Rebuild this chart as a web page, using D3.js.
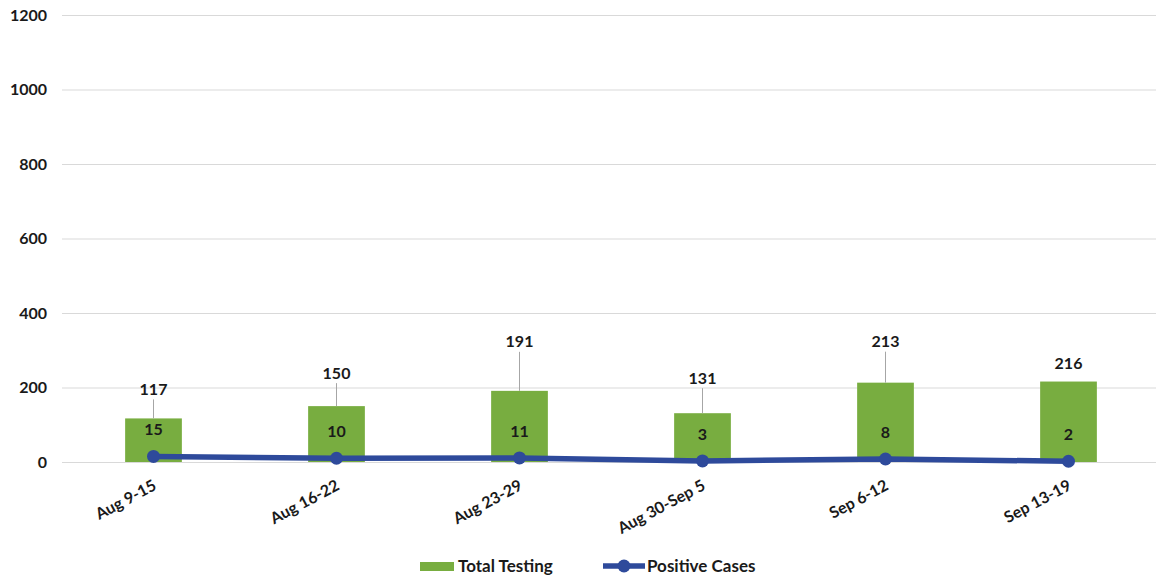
<!DOCTYPE html>
<html>
<head>
<meta charset="utf-8">
<script src="https://cdn.jsdelivr.net/npm/d3@7"></script>
<style>
  body { margin: 0; background: #fff; }
  svg text { font-family: Lato, "Open Sans", sans-serif; font-weight: 700; fill: #1a1a1a; }
</style>
</head>
<body>
<svg id="chart" width="1156" height="581"></svg>
<script>
"use strict";

// data
const weeks = ["Aug 9-15", "Aug 16-22", "Aug 23-29", "Aug 30-Sep 5", "Sep 6-12", "Sep 13-19"];
const totalTesting = [117, 150, 191, 131, 213, 216];
const positiveCases = [15, 10, 11, 3, 8, 2];
const yTicks = [0, 200, 400, 600, 800, 1000, 1200];

// how far each bar callout was dragged above its bar (px), as in the original
const calloutLift = [29, 33, 49, 35, 41, 18];

const svg = d3.select("#chart");

const x = d3.scaleBand()
    .domain(weeks)
    .range([62, 1160])
    .paddingInner(0.69)
    .paddingOuter(0.345);

const y = d3.scaleLinear()
    .domain([0, 1200])
    .range([462, 15]);

// gridlines + y labels
const yAxis = svg.append("g")
    .attr("transform", "translate(62,0)")
    .call(d3.axisLeft(y).tickValues(yTicks).tickSize(-1094).tickPadding(15).tickFormat(d3.format("d")));
yAxis.select(".domain").remove();
yAxis.selectAll(".tick line").attr("stroke", "#d9d9d9");
yAxis.selectAll(".tick text").style("font-size", "16px");

// bars
svg.append("g")
    .selectAll("rect")
    .data(totalTesting)
    .join("rect")
    .attr("x", (d, i) => x(weeks[i]))
    .attr("y", d => y(d))
    .attr("width", x.bandwidth())
    .attr("height", d => y(0) - y(d))
    .attr("fill", "#78ad40");

// bar callouts with leader lines
const callouts = svg.append("g");
totalTesting.forEach((d, i) => {
    const cx = x(weeks[i]) + x.bandwidth() / 2;
    const top = y(d);
    const labelY = top - calloutLift[i];
    if (calloutLift[i] > 22) {
        callouts.append("line")
            .attr("x1", cx).attr("x2", cx)
            .attr("y1", top).attr("y2", labelY + 10)
            .attr("stroke", "#a6a6a6")
            .attr("stroke-width", 1);
    }
    callouts.append("text")
        .attr("x", cx)
        .attr("y", labelY)
        .attr("text-anchor", "middle")
        .attr("dy", "0.35em")
        .style("font-size", "16px")
        .text(d);
});

// positive cases line
const line = d3.line()
    .x((d, i) => x(weeks[i]) + x.bandwidth() / 2)
    .y(d => y(d));

svg.append("path")
    .datum(positiveCases)
    .attr("d", line)
    .attr("fill", "none")
    .attr("stroke", "#2e4a9b")
    .attr("stroke-width", 5.5)
    .attr("stroke-linejoin", "round");

svg.append("g")
    .selectAll("circle")
    .data(positiveCases)
    .join("circle")
    .attr("cx", (d, i) => x(weeks[i]) + x.bandwidth() / 2)
    .attr("cy", d => y(d))
    .attr("r", 6.5)
    .attr("fill", "#2e4a9b");

svg.append("g")
    .selectAll("text")
    .data(positiveCases)
    .join("text")
    .attr("x", (d, i) => x(weeks[i]) + x.bandwidth() / 2)
    .attr("y", d => y(d) - 21)
    .attr("text-anchor", "middle")
    .style("font-size", "16px")
    .text(d => d);

// rotated category labels
svg.append("g")
    .selectAll("text")
    .data(weeks)
    .join("text")
    .attr("text-anchor", "end")
    .attr("transform", d => `translate(${x(d) + x.bandwidth() / 2 + 4},${489}) rotate(-28)`)
    .style("font-size", "16px")
    .text(d => d);

// legend
const legend = svg.append("g");
legend.append("rect")
    .attr("x", 420).attr("y", 562)
    .attr("width", 34).attr("height", 9)
    .attr("fill", "#78ad40");
legend.append("text")
    .attr("x", 458).attr("y", 572)
    .style("font-size", "17px")
    .text("Total Testing");
legend.append("line")
    .attr("x1", 603).attr("x2", 645)
    .attr("y1", 566).attr("y2", 566)
    .attr("stroke", "#2e4a9b")
    .attr("stroke-width", 5.5);
legend.append("circle")
    .attr("cx", 624).attr("cy", 566)
    .attr("r", 6.5)
    .attr("fill", "#2e4a9b");
legend.append("text")
    .attr("x", 647).attr("y", 572)
    .style("font-size", "17px")
    .text("Positive Cases");
</script>
</body>
</html>
